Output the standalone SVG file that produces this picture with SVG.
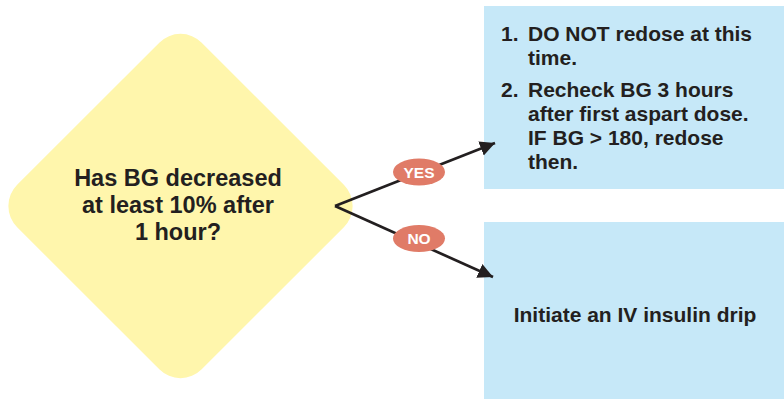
<svg xmlns="http://www.w3.org/2000/svg" width="784" height="399" viewBox="0 0 784 399">
<style>
text{font-family:"Liberation Sans",Arial,Helvetica,sans-serif;font-weight:bold;fill:#231F20}
.d{font-size:23.5px}
.b{font-size:21px}
.lbl{font-size:15.5px;fill:#FFFFFF}
.box{fill:#C6E8F8}
.oval{fill:#E07B67}
.conn{stroke:#231F20;stroke-width:2.7;fill:none}
</style>
<defs>
<marker id="ah" markerUnits="userSpaceOnUse" markerWidth="18" markerHeight="18" refX="15" refY="7.5" orient="auto">
<path d="M0,0 L15,7.5 L0,15 z" fill="#231F20"/>
</marker>
</defs>
<rect width="784" height="399" fill="#FFFFFF"/>
<g id="decision">
<rect x="50" y="75.5" width="261" height="261" rx="30" fill="#FFF6AC" transform="rotate(45 180.5 206)"/>
<text class="d" x="178" y="186" text-anchor="middle">Has BG decreased</text>
<text class="d" x="178" y="213" text-anchor="middle">at least 10% after</text>
<text class="d" x="178" y="240" text-anchor="middle">1 hour?</text>
</g>
<g id="yes-box">
<rect class="box" x="484" y="6" width="300" height="183"/>
<text class="b" x="501" y="41">1.</text>
<text class="b" x="528" y="41">DO NOT redose at this</text>
<text class="b" x="528" y="65">time.</text>
<text class="b" x="501" y="97">2.</text>
<text class="b" x="528" y="97">Recheck BG 3 hours</text>
<text class="b" x="528" y="121">after first aspart dose.</text>
<text class="b" x="528" y="145">IF BG &gt; 180, redose</text>
<text class="b" x="528" y="169">then.</text>
</g>
<g id="no-box">
<rect class="box" x="484" y="222" width="300" height="177"/>
<text class="b" x="635" y="322" text-anchor="middle">Initiate an IV insulin drip</text>
</g>
<g id="connectors">
<path class="conn" d="M335,206 L495,143" marker-end="url(#ah)"/>
<path class="conn" d="M335,206 L493,277" marker-end="url(#ah)"/>
</g>
<g id="yes-label">
<ellipse class="oval" cx="419" cy="172" rx="26" ry="13.5"/>
<text class="lbl" x="419" y="177.5" text-anchor="middle">YES</text>
</g>
<g id="no-label">
<ellipse class="oval" cx="419" cy="238.5" rx="26" ry="13.5"/>
<text class="lbl" x="419" y="244" text-anchor="middle">NO</text>
</g>
</svg>
